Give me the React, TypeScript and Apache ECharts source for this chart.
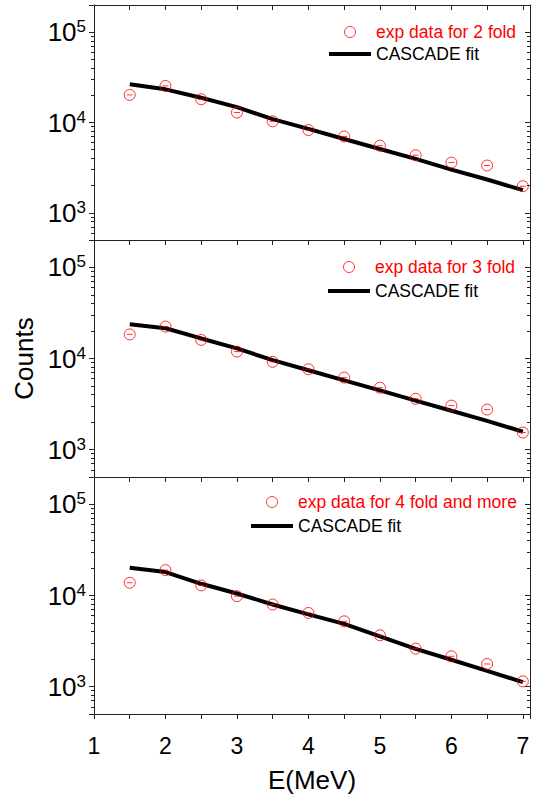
import React, { useEffect, useRef } from "react";
import * as echarts from "echarts";

const energies = [1.5, 2, 2.5, 3, 3.5, 4, 4.5, 5, 5.5, 6, 6.5, 7];
const exp2 = [20200, 25400, 18100, 12900, 10300, 8250, 7000, 5540, 4340, 3600, 3340, 1970];
const fit2 = [26500, 23300, 18800, 14800, 10900, 8500, 6560, 5090, 3950, 3010, 2340, 1780];
const exp3 = [18400, 22400, 16000, 11900, 9200, 7620, 6170, 4780, 3610, 3040, 2750, 1540];
const fit3 = [23800, 21500, 16600, 12900, 9580, 7430, 5750, 4460, 3450, 2670, 2070, 1570];
const exp4 = [13800, 19000, 12900, 9830, 7960, 6440, 5210, 3660, 2610, 2150, 1770, 1140];
const fit4 = [20200, 18100, 13450, 10520, 7960, 6200, 4880, 3560, 2590, 1970, 1490, 1120];
const expNames = ["exp data for 2 fold", "exp data for 3 fold", "exp data for 4 fold and more"];
const fitName = "CASCADE fit";
const xTicks = [1, 2, 3, 4, 5, 6, 7];

const FONT = "'Liberation Sans', Arial, sans-serif";
const RED = "#ff0000";
const AX = "#222";

const gridTops = [5, 240, 477];
const gridHeights = [235, 237, 237];
const legendPos = [
  { left: 324, top: 18, gap: 4 },
  { left: 323, top: 253, gap: 6 },
  { left: 246, top: 488, gap: 6 },
];

const pair = (ys: number[]) => energies.map((e, i) => [e, ys[i]]);

const markerPath =
  "path://M11,5.5A5.5,5.5,0,1,1,0,5.5A5.5,5.5,0,1,1,11,5.5ZM2.5,5.5L8.5,5.5";
const lineIcon = "path://M0,0L40,0L40,4L0,4Z";

export default function App() {
  const ref = useRef<HTMLDivElement>(null);
  useEffect(() => {
    if (!ref.current) return;
    const chart = echarts.init(ref.current, null, { renderer: "svg" });
    const exps = [exp2, exp3, exp4];
    const fits = [fit2, fit3, fit4];
    const grid: any[] = [];
    const xAxis: any[] = [];
    const yAxis: any[] = [];
    const series: any[] = [];
    const legend: any[] = [];
    for (let i = 0; i < 3; i++) {
      grid.push({ left: 94, right: 5, top: gridTops[i], height: gridHeights[i], containLabel: false });
      const xBase = {
        gridIndex: i,
        type: "value",
        min: 1,
        max: 7.1,
        interval: 0.5,
        splitLine: { show: false },
        axisLine: { show: true, onZero: false, lineStyle: { color: AX, width: 1 } },
      };
      xAxis.push({
        ...xBase,
        position: "bottom",
        axisTick: { show: true, inside: false, length: 5, lineStyle: { color: AX } },
        axisLabel: {
          show: i === 2,
          interval: 0,
          margin: 20,
          fontSize: 23,
          color: "#000",
          fontFamily: FONT,
          formatter: (v: number) => (xTicks.indexOf(v) >= 0 ? String(v) : ""),
        },
        name: i === 2 ? "E(MeV)" : "",
        nameLocation: "middle",
        nameGap: 53,
        nameTextStyle: { fontSize: 26, color: "#000", fontFamily: FONT },
      });
      xAxis.push({
        ...xBase,
        position: "top",
        axisTick: { show: true, inside: true, length: 5, lineStyle: { color: AX } },
        axisLabel: { show: false },
      });
      const yBase = {
        gridIndex: i,
        type: "log",
        logBase: 10,
        min: 500,
        max: 200000,
        splitLine: { show: false },
        minorSplitLine: { show: false },
        axisLine: { show: true, onZero: false, lineStyle: { color: AX, width: 1 } },
      };
      yAxis.push({
        ...yBase,
        position: "left",
        axisTick: { show: true, inside: false, length: 5, lineStyle: { color: AX } },
        minorTick: { show: true, splitNumber: 9, length: 3, lineStyle: { color: AX } },
        axisLabel: {
          show: true,
          margin: 8,
          showMinLabel: false,
          showMaxLabel: false,
          formatter: (v: number) => {
            const e = Math.log10(v);
            if (Math.abs(e - Math.round(e)) > 1e-6) return "";
            return "{b|10}{s|" + Math.round(e) + "}";
          },
          rich: {
            b: { fontSize: 26, color: "#000", fontFamily: FONT, lineHeight: 28 },
            s: { fontSize: 17, color: "#000", fontFamily: FONT, verticalAlign: "top", lineHeight: 17 },
          },
        },
        name: i === 1 ? "Counts" : "",
        nameLocation: "middle",
        nameGap: 54,
        nameTextStyle: { fontSize: 26, color: "#000", fontFamily: FONT },
      });
      yAxis.push({
        ...yBase,
        position: "right",
        axisTick: { show: true, inside: true, length: 5, lineStyle: { color: AX } },
        minorTick: { show: true, splitNumber: 9, length: 3, lineStyle: { color: AX } },
        axisLabel: { show: false },
      });
      series.push({
        name: fitName,
        type: "line",
        xAxisIndex: 2 * i,
        yAxisIndex: 2 * i,
        data: pair(fits[i]),
        symbol: "none",
        showSymbol: false,
        lineStyle: { color: "#000", width: 4 },
        itemStyle: { color: "#000" },
        z: 2,
      });
      series.push({
        name: expNames[i],
        type: "scatter",
        xAxisIndex: 2 * i,
        yAxisIndex: 2 * i,
        data: pair(exps[i]),
        symbol: markerPath,
        symbolSize: 11,
        clip: false,
        itemStyle: { color: "rgba(0,0,0,0)", borderColor: RED, borderWidth: 1 },
        z: 3,
      });
      legend.push({
        left: legendPos[i].left,
        top: legendPos[i].top,
        orient: "vertical",
        itemWidth: 42,
        itemHeight: 11,
        itemGap: legendPos[i].gap,
        selectedMode: false,
        textStyle: { fontSize: 17.5, color: "#000", fontFamily: FONT },
        data: [
          {
            name: expNames[i],
            icon: "circle",
            itemStyle: { color: "rgba(0,0,0,0)", borderColor: RED, borderWidth: 1 },
            textStyle: { color: RED },
          },
          {
            name: fitName,
            icon: lineIcon,
            itemStyle: { color: "#000", borderWidth: 0 },
          },
        ],
      });
    }
    chart.setOption({
      animation: false,
      backgroundColor: "#fff",
      textStyle: { fontFamily: FONT },
      grid,
      xAxis,
      yAxis,
      series,
      legend,
    });
    return () => chart.dispose();
  }, []);
  return (
    <div
      ref={ref}
      style={{ position: "fixed", left: 0, top: 0, width: 535, height: 799 }}
    />
  );
}
